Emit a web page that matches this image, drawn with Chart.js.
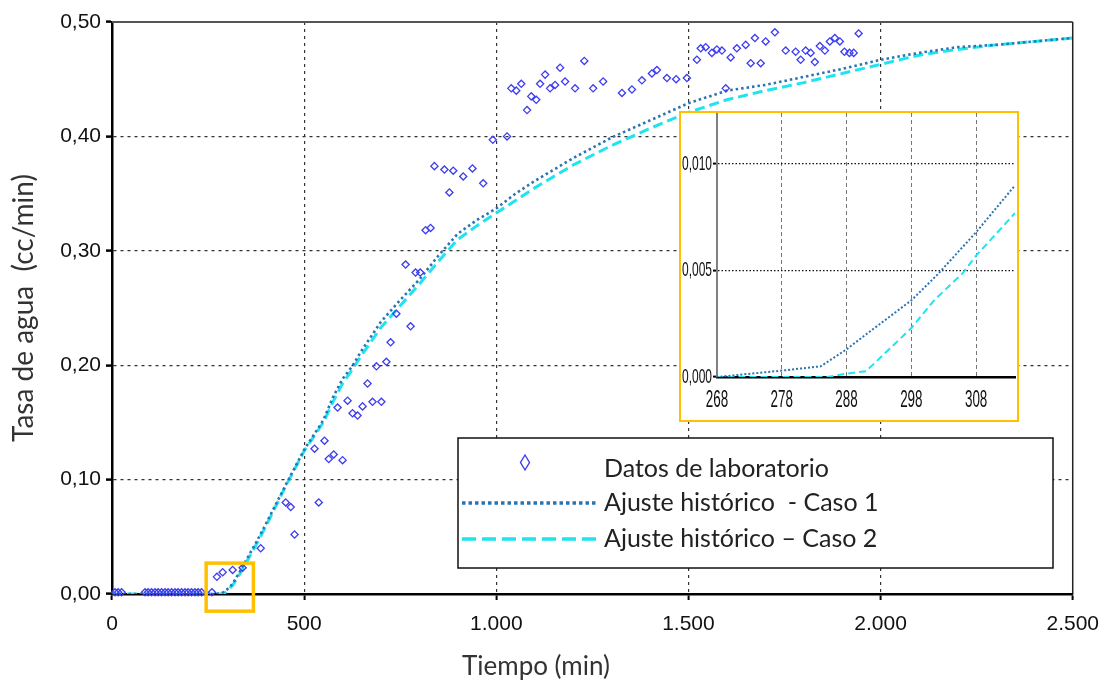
<!DOCTYPE html>
<html lang="es">
<head>
<meta charset="utf-8">
<title>Tasa de agua</title>
<script src="https://cdn.jsdelivr.net/npm/chart.js@4.4.1/dist/chart.umd.min.js"></script>
<style>
  body { margin: 0; background: #fff; }
  #wrap { position: relative; width: 1111px; height: 684px; }
  #zoomBox {
    position: absolute; left: 679px; top: 111px;
    width: 336px; height: 307px;
    border: 2px solid #ffc000; background: #fff;
  }
  #zoomBox canvas { display: block; }
</style>
</head>
<body>
<div id="wrap">
  <canvas id="mainChart" width="1111" height="684"></canvas>
  <div id="zoomBox"><canvas id="zoomChart" width="336" height="307"></canvas></div>
</div>
<script>
// Datos de laboratorio (tiempo en min, tasa en cc/min)
const labTime = [
  8, 16, 25, 86, 94, 103, 112, 120, 129, 138, 146, 155, 164, 172, 181, 190, 198, 207, 216, 224, 233, 260,
  273, 288, 314, 340, 387, 452, 465, 475, 527, 538, 553, 564, 577, 587, 600, 613, 626, 639, 652, 665,
  678, 688, 701, 714, 725, 740, 764, 777, 790, 802, 816, 829, 839, 865, 878, 888, 914, 938, 966, 991,
  1028, 1039, 1052, 1065, 1080, 1091, 1104, 1114, 1127, 1140, 1153, 1166, 1179, 1205, 1229, 1252, 1278,
  1327, 1353, 1379, 1405, 1418, 1444, 1468, 1496, 1522, 1532, 1545, 1561, 1574, 1587, 1597, 1610, 1626,
  1649, 1662, 1673, 1688, 1701, 1725, 1753, 1779, 1792, 1805, 1818, 1829, 1842, 1855, 1868, 1881, 1894,
  1906, 1919, 1930, 1943
];
const labRate = [
  0.0015, 0.0015, 0.0015, 0.0015, 0.0015, 0.0015, 0.0015, 0.0015, 0.0015, 0.0015, 0.0015, 0.0015, 0.0015,
  0.0015, 0.0015, 0.0015, 0.0015, 0.0015, 0.0015, 0.0015, 0.0015, 0.0015,
  0.015, 0.019, 0.021, 0.023, 0.040, 0.080, 0.076, 0.052, 0.127, 0.080, 0.134, 0.118, 0.122, 0.163, 0.117,
  0.169, 0.158, 0.156, 0.164, 0.184, 0.168, 0.199, 0.168, 0.203, 0.220, 0.245, 0.288, 0.234, 0.281, 0.281,
  0.318, 0.320, 0.374, 0.371, 0.351, 0.370, 0.365, 0.372, 0.359, 0.397,
  0.400, 0.442, 0.440, 0.446, 0.423, 0.435, 0.432, 0.446, 0.454, 0.442, 0.445, 0.460, 0.448, 0.442, 0.466,
  0.442, 0.448, 0.438, 0.441, 0.449, 0.455, 0.458, 0.451, 0.450, 0.451, 0.467, 0.477, 0.478, 0.473, 0.476,
  0.475, 0.442, 0.469, 0.477, 0.480, 0.464, 0.486, 0.464, 0.483, 0.491, 0.475, 0.474, 0.467, 0.475, 0.473,
  0.465, 0.479, 0.475, 0.483, 0.486, 0.483, 0.474, 0.473, 0.473, 0.490
];

// Ajuste histórico - Caso 1
const caso1Time = [
  0, 100, 200, 268, 278, 284, 288, 291, 298, 302, 308, 314, 330, 350, 375, 400, 450, 500, 550, 575, 600,
  625, 650, 700, 750, 800, 850, 900, 950, 1000, 1050, 1100, 1200, 1300, 1400, 1500, 1600, 1700, 1800,
  1900, 2000, 2100, 2200, 2300, 2400, 2500
];
const caso1Rate = [
  0, 0, 0, 0, 0.0003, 0.0005, 0.0013, 0.0020, 0.0036, 0.0048, 0.0068, 0.0090, 0.018, 0.030, 0.045, 0.061,
  0.094, 0.126, 0.152, 0.172, 0.188, 0.199, 0.213, 0.238, 0.257, 0.275, 0.296, 0.315, 0.327, 0.337, 0.350,
  0.361, 0.381, 0.399, 0.414, 0.429, 0.440, 0.445, 0.452, 0.459, 0.467, 0.473, 0.478, 0.480, 0.483, 0.486
];

// Ajuste histórico - Caso 2
const caso2Time = [
  0, 100, 200, 268, 285, 288, 291, 298, 301.5, 306, 308, 314, 330, 350, 375, 400, 450, 500, 550, 575, 600,
  625, 650, 700, 750, 800, 850, 900, 950, 1000, 1050, 1100, 1200, 1300, 1400, 1500, 1600, 1700, 1800,
  1900, 2000, 2100, 2200, 2300, 2400, 2500
];
const caso2Rate = [
  0, 0, 0, 0, 0, 0.00016, 0.00027, 0.0023, 0.0036, 0.0049, 0.0057, 0.0077, 0.016, 0.028, 0.043, 0.059,
  0.093, 0.125, 0.150, 0.168, 0.184, 0.196, 0.209, 0.233, 0.252, 0.271, 0.291, 0.310, 0.322, 0.333, 0.344,
  0.355, 0.375, 0.392, 0.407, 0.421, 0.432, 0.440, 0.447, 0.455, 0.463, 0.471, 0.476, 0.480, 0.483, 0.486
];

// ejes del gráfico principal
const xTicks = [0, 500, 1000, 1500, 2000, 2500];
const xTickLabels = ["0", "500", "1.000", "1.500", "2.000", "2.500"];
const yTicks = [0, 0.1, 0.2, 0.3, 0.4, 0.5];
const yTickLabels = ["0,00", "0,10", "0,20", "0,30", "0,40", "0,50"];

// ejes del detalle (ampliación del inicio)
const zoomXTicks = [268, 278, 288, 298, 308];
const zoomXTickLabels = ["268", "278", "288", "298", "308"];
const zoomYTicks = [0, 0.005, 0.010];
const zoomYTickLabels = ["0,000", "0,005", "0,010"];

// recuadro que marca la zona ampliada
const zoomWindowX = [245, 368];
const zoomWindowY = [-0.015, 0.027];

const legendLabels = ["Datos de laboratorio", "Ajuste histórico  - Caso 1", "Ajuste histórico \u2013 Caso 2"];

const toPoints = (xs, ys) => xs.map((v, i) => ({ x: v, y: ys[i] }));

const tickFamily = "'Liberation Sans', Arial, sans-serif";
const textFont = "Lato, 'Open Sans', sans-serif";

const labColor = "#3c3cf2";
const caso1Color = "#2a74b4";
const caso2Color = "#1ee4f0";

const frameAndKey = {
  id: "frameAndKey",
  afterDraw(chart) {
    const { ctx, chartArea: a, scales: { x, y } } = chart;
    ctx.save();

    // marco superior y derecho
    ctx.setLineDash([]);
    ctx.strokeStyle = "#555";
    ctx.lineWidth = 2;
    ctx.beginPath(); ctx.moveTo(a.left, a.top); ctx.lineTo(a.right, a.top); ctx.stroke();
    ctx.strokeStyle = "#222";
    ctx.lineWidth = 1.5;
    ctx.beginPath(); ctx.moveTo(a.right, a.top); ctx.lineTo(a.right, a.bottom); ctx.stroke();

    // recuadro naranja
    const bx0 = x.getPixelForValue(zoomWindowX[0]);
    const bx1 = x.getPixelForValue(zoomWindowX[1]);
    const by0 = y.getPixelForValue(zoomWindowY[1]);
    const by1 = y.getPixelForValue(zoomWindowY[0]);
    ctx.strokeStyle = "#ffc000";
    ctx.lineWidth = 3.5;
    ctx.strokeRect(bx0, by0, bx1 - bx0, by1 - by0);

    // leyenda
    ctx.fillStyle = "#fff";
    ctx.fillRect(458, 438, 595, 130);
    ctx.strokeStyle = "#111";
    ctx.lineWidth = 1.5;
    ctx.strokeRect(458, 438, 595, 130);

    ctx.strokeStyle = labColor;
    ctx.lineWidth = 1.4;
    ctx.beginPath();
    ctx.moveTo(525, 455); ctx.lineTo(529.5, 462.5); ctx.lineTo(525, 470); ctx.lineTo(520.5, 462.5);
    ctx.closePath(); ctx.stroke();

    ctx.lineWidth = 3.5;
    ctx.strokeStyle = caso1Color;
    ctx.setLineDash([3.5, 3]);
    ctx.beginPath(); ctx.moveTo(462, 503); ctx.lineTo(598, 503); ctx.stroke();
    ctx.strokeStyle = caso2Color;
    ctx.setLineDash([14, 6]);
    ctx.beginPath(); ctx.moveTo(462, 539); ctx.lineTo(598, 539); ctx.stroke();
    ctx.setLineDash([]);

    ctx.font = "25px " + textFont;
    ctx.fillStyle = "#222";
    ctx.textAlign = "left";
    ctx.textBaseline = "middle";
    ctx.fillText(legendLabels[0], 604, 469);
    ctx.fillText(legendLabels[1], 604, 503);
    ctx.fillText(legendLabels[2], 604, 539);

    // título del eje x
    ctx.font = "26px " + textFont;
    ctx.textAlign = "center";
    ctx.fillStyle = "#333";
    ctx.fillText("Tiempo (min)", 536, 667);
    ctx.restore();
  }
};

// etiquetas estrechas del detalle, dibujadas a mano
const narrowTicks = {
  id: "narrowTicks",
  afterDraw(chart) {
    const { ctx, chartArea: a, scales: { x, y } } = chart;
    ctx.save();
    ctx.fillStyle = "#111";
    ctx.textBaseline = "middle";
    ctx.font = "21px " + tickFamily;
    ctx.textAlign = "right";
    zoomYTicks.forEach((v, i) => {
      ctx.save();
      ctx.translate(a.left - 5, y.getPixelForValue(v));
      ctx.scale(0.57, 1);
      ctx.fillText(zoomYTickLabels[i], 0, 0);
      ctx.restore();
    });
    ctx.font = "24px " + tickFamily;
    ctx.textAlign = "center";
    zoomXTicks.forEach((v, i) => {
      ctx.save();
      ctx.translate(x.getPixelForValue(v), a.bottom + 23);
      ctx.scale(0.56, 1);
      ctx.fillText(zoomXTickLabels[i], 0, 0);
      ctx.restore();
    });
    ctx.restore();
  }
};

new Chart(document.getElementById("mainChart"), {
  type: "line",
  data: {
    datasets: [
      {
        label: legendLabels[0],
        data: toPoints(labTime, labRate),
        showLine: false,
        pointStyle: "rectRot",
        pointRadius: 3.6,
        pointBorderWidth: 1.3,
        pointBorderColor: labColor,
        pointBackgroundColor: "rgba(0,0,0,0)",
        borderColor: labColor,
        clip: false,
        order: 0
      },
      {
        label: legendLabels[1],
        data: toPoints(caso1Time, caso1Rate),
        borderColor: caso1Color,
        borderWidth: 2.6,
        borderDash: [2.5, 3],
        pointRadius: 0,
        tension: 0,
        fill: false,
        order: 1
      },
      {
        label: legendLabels[2],
        data: toPoints(caso2Time, caso2Rate),
        borderColor: caso2Color,
        borderWidth: 3,
        borderDash: [10, 5],
        pointRadius: 0,
        tension: 0,
        fill: false,
        order: 2
      }
    ]
  },
  options: {
    responsive: false,
    animation: false,
    events: [],
    layout: { padding: { top: 22, right: 38, left: 0, bottom: 0 } },
    plugins: { legend: { display: false }, tooltip: { enabled: false } },
    scales: {
      x: {
        type: "linear",
        min: 0,
        max: 2500,
        afterBuildTicks: (s) => { s.ticks = xTicks.map((v) => ({ value: v })); },
        afterFit: (s) => { s.height = 90; },
        border: { display: true, color: "#000", width: 2.5, dash: [3, 4] },
        grid: {
          color: (c) => (c.tick && (c.tick.value === 0 || c.tick.value === 2500)) ? "rgba(0,0,0,0)" : "#333",
          lineWidth: 1.2,
          tickColor: "#000",
          tickLength: 6,
          tickWidth: 2,
          tickBorderDash: []
        },
        ticks: {
          font: { family: tickFamily, size: 21 },
          color: "#111",
          padding: 12,
          maxRotation: 0,
          callback: (v, i) => xTickLabels[i]
        }
      },
      y: {
        min: 0,
        max: 0.5,
        afterBuildTicks: (s) => { s.ticks = yTicks.map((v) => ({ value: v })); },
        afterFit: (s) => { s.width = 112; },
        border: { display: true, color: "#000", width: 2.5, dash: [3, 4] },
        grid: {
          color: (c) => (c.tick && (c.tick.value === 0 || c.tick.value === 0.5)) ? "rgba(0,0,0,0)" : "#333",
          lineWidth: 1.2,
          tickColor: "#000",
          tickLength: 6,
          tickWidth: 2.5,
          tickBorderDash: []
        },
        ticks: {
          font: { family: tickFamily, size: 21 },
          color: "#111",
          padding: 5,
          callback: (v, i) => yTickLabels[i]
        },
        title: {
          display: true,
          text: "Tasa de agua  (cc/min)",
          font: { family: textFont, size: 28 },
          color: "#333",
          padding: { top: 7, bottom: 0 }
        }
      }
    }
  },
  plugins: [frameAndKey]
});

// detalle del arranque de la producción de agua
new Chart(document.getElementById("zoomChart"), {
  type: "line",
  data: {
    datasets: [
      {
        label: legendLabels[1],
        data: toPoints(caso1Time, caso1Rate),
        borderColor: caso1Color,
        borderWidth: 2,
        borderDash: [2, 2],
        pointRadius: 0,
        tension: 0,
        fill: false,
        order: 1
      },
      {
        label: legendLabels[2],
        data: toPoints(caso2Time, caso2Rate),
        borderColor: caso2Color,
        borderWidth: 2,
        borderDash: [7, 4],
        pointRadius: 0,
        tension: 0,
        fill: false,
        order: 2
      }
    ]
  },
  options: {
    responsive: false,
    animation: false,
    events: [],
    layout: { padding: { top: 0, right: 2, left: 0, bottom: 0 } },
    plugins: { legend: { display: false }, tooltip: { enabled: false } },
    scales: {
      x: {
        type: "linear",
        min: 268,
        max: 314,
        afterBuildTicks: (s) => { s.ticks = zoomXTicks.map((v) => ({ value: v })); },
        afterFit: (s) => { s.height = 43; },
        border: { display: true, color: "#000", width: 2.5, dash: [4, 3] },
        grid: {
          color: (c) => (c.tick && c.tick.value === 268) ? "rgba(0,0,0,0)" : "#777",
          lineWidth: 1,
          drawTicks: false
        },
        ticks: { display: false }
      },
      y: {
        min: 0,
        max: 0.0124,
        afterBuildTicks: (s) => { s.ticks = zoomYTicks.map((v) => ({ value: v })); },
        afterFit: (s) => { s.width = 36; },
        border: { display: true, color: "#808080", width: 2, dash: [1.5, 2] },
        grid: {
          color: (c) => (c.tick && c.tick.value === 0) ? "rgba(0,0,0,0)" : "#111",
          lineWidth: 1.2,
          tickColor: "#000",
          tickLength: 4,
          tickWidth: 2,
          tickBorderDash: []
        },
        ticks: { display: false }
      }
    }
  },
  plugins: [narrowTicks]
});
</script>
</body>
</html>
